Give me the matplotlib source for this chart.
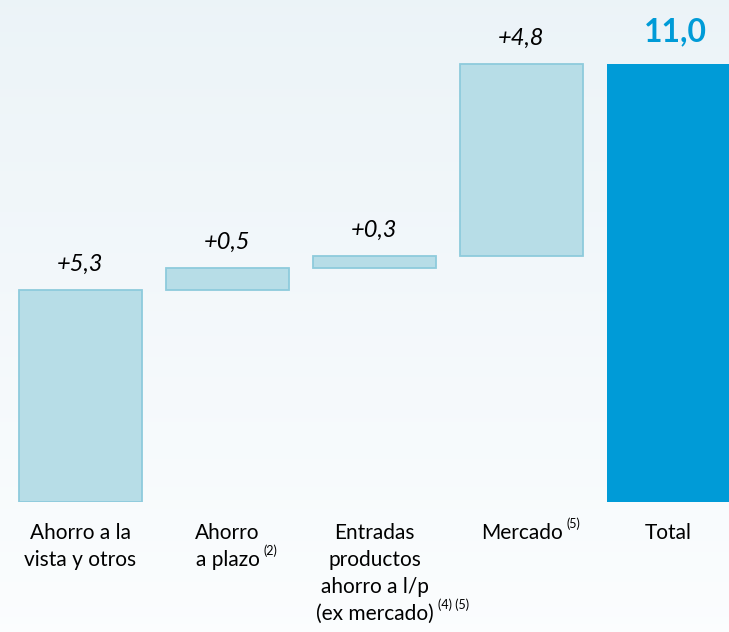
import matplotlib

matplotlib.use("Agg")
import matplotlib.pyplot as plt
import matplotlib.transforms as mtransforms
import numpy as np

plt.rcParams["font.family"] = ["Lato", "DejaVu Sans"]

# waterfall data (heights, labels as printed)
categories = [
    ["Ahorro a la", "vista y otros"],
    ["Ahorro", "a plazo"],
    ["Entradas", "productos", "ahorro a l/p", "(ex mercado)"],
    ["Mercado"],
    ["Total"],
]
footnotes = ["", "(2)", "(4) (5)", "(5)", ""]
steps = [5.33, 0.55, 0.30, 4.82]
total = 11.0
step_labels = ["+5,3", "+0,5", "+0,3", "+4,8"]
total_label = "11,0"

STEP_FILL = "#b7dde7"
STEP_EDGE = "#8ecbdc"
TOTAL_COLOR = "#009bd7"

fig = plt.figure(figsize=(7.29, 6.32), dpi=100)

# soft background gradient, bluish at the top
bg = fig.add_axes([0, 0, 1, 1], zorder=-10)
grad = np.linspace(0, 1, 256).reshape(-1, 1)
top = np.array([0.925, 0.955, 0.972])
bottom = np.array([0.985, 0.993, 0.997])
colors = top[None, None, :] + (bottom - top)[None, None, :] * grad[:, :, None]
bg.imshow(colors, aspect="auto", extent=(0, 1, 0, 1))
bg.axis("off")

ax = fig.add_axes([0, 130 / 632, 1, 502 / 632])
ax.patch.set_visible(False)

width = 0.837
x = np.arange(len(categories))
bottoms = np.concatenate([[0], np.cumsum(steps)[:-1]])
ax.bar(x[:4], steps, bottom=bottoms, width=width, color=STEP_FILL,
       edgecolor=STEP_EDGE, linewidth=1.3)
ax.bar(x[4], total, width=width, color=TOTAL_COLOR, edgecolor=TOTAL_COLOR, linewidth=0)

for xi, b, s, lab in zip(x[:4], bottoms, steps, step_labels):
    ax.annotate(lab, (xi, b + s), xytext=(0, 11), textcoords="offset points",
                ha="center", va="bottom", fontsize=17, style="italic")
ax.annotate(total_label, (x[4], total), xytext=(5, 13), textcoords="offset points",
            ha="center", va="bottom", fontsize=23, fontweight="bold", color=TOTAL_COLOR)

# category labels, one text per line so the footnote can sit after the last line
base = ax.get_xaxis_transform()
for xi, lines, note in zip(x, categories, footnotes):
    last = None
    for i, line in enumerate(lines):
        dy = (31 + 27 * i) / 100
        tr = base + mtransforms.ScaledTranslation(0, -dy, fig.dpi_scale_trans)
        last = ax.text(xi, 0, line, transform=tr, ha="center", va="center", fontsize=15)
    if note:
        ax.annotate(note, xy=(1, 0.5), xycoords=last, xytext=(3, 6.5),
                    textcoords="offset points", ha="left", va="center", fontsize=9)

ax.set_xlim(-80.5 / 147, (729 - 80.5) / 147)
ax.set_ylim(0, 502 / 39.8)
ax.axis("off")

fig.savefig("out.png", dpi=100)
